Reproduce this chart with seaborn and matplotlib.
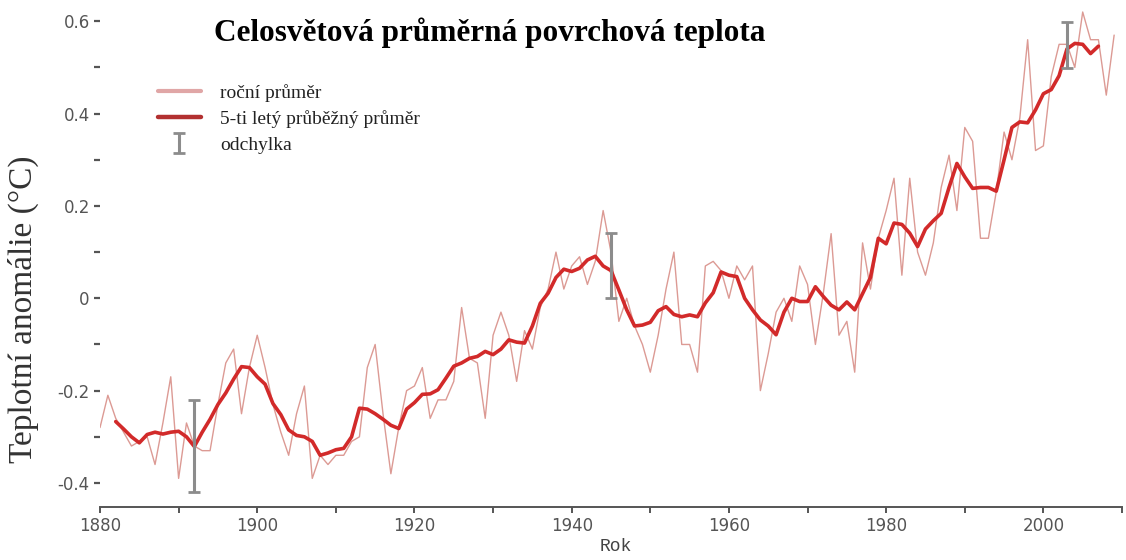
import matplotlib
matplotlib.use("Agg")
import matplotlib.pyplot as plt
import seaborn as sns
import pandas as pd
from matplotlib.lines import Line2D
from matplotlib.ticker import MultipleLocator, FuncFormatter

# Global land-ocean temperature anomaly, annual means (°C)
years = list(range(1880, 2010))
annual = [
    -0.28, -0.21, -0.26, -0.29, -0.32, -0.31, -0.30, -0.36, -0.27, -0.17,
    -0.39, -0.27, -0.32, -0.33, -0.33, -0.23, -0.14, -0.11, -0.25, -0.15,
    -0.08, -0.15, -0.23, -0.29, -0.34, -0.25, -0.19, -0.39, -0.34, -0.36,
    -0.34, -0.34, -0.31, -0.30, -0.15, -0.10, -0.25, -0.38, -0.28, -0.20,
    -0.19, -0.15, -0.26, -0.22, -0.22, -0.18, -0.02, -0.13, -0.14, -0.26,
    -0.08, -0.03, -0.08, -0.18, -0.07, -0.11, -0.02, 0.02, 0.10, 0.02,
    0.07, 0.09, 0.03, 0.08, 0.19, 0.10, -0.05, 0.00, -0.06, -0.10,
    -0.16, -0.08, 0.02, 0.10, -0.10, -0.10, -0.16, 0.07, 0.08, 0.06,
    0.00, 0.07, 0.04, 0.07, -0.20, -0.12, -0.03, 0.00, -0.05, 0.07,
    0.03, -0.10, 0.01, 0.14, -0.08, -0.05, -0.16, 0.12, 0.02, 0.13,
    0.19, 0.26, 0.05, 0.26, 0.10, 0.05, 0.12, 0.24, 0.31, 0.19,
    0.37, 0.34, 0.13, 0.13, 0.23, 0.36, 0.30, 0.39, 0.56, 0.32,
    0.33, 0.48, 0.55, 0.55, 0.50, 0.62, 0.56, 0.56, 0.44, 0.57,
]

# Five-year running mean (°C)
smooth_years = list(range(1882, 2008))
smooth = [
    -0.267, -0.283, -0.300, -0.313, -0.295, -0.290, -0.294, -0.290,
    -0.288, -0.300, -0.321, -0.290, -0.262, -0.230, -0.205, -0.175, -0.148, -0.150,
    -0.170, -0.186, -0.228, -0.252, -0.285, -0.297, -0.300, -0.310, -0.340, -0.335,
    -0.328, -0.325, -0.300, -0.238, -0.240, -0.250, -0.262, -0.275, -0.282, -0.240,
    -0.226, -0.208, -0.207, -0.198, -0.173, -0.147, -0.140, -0.130, -0.126, -0.115,
    -0.122, -0.110, -0.090, -0.095, -0.097, -0.060, -0.011, 0.011, 0.045, 0.063,
    0.058, 0.065, 0.083, 0.091, 0.070, 0.060, 0.018, -0.025, -0.060, -0.058,
    -0.052, -0.027, -0.018, -0.035, -0.040, -0.036, -0.040, -0.010, 0.012, 0.057,
    0.050, 0.047, 0.000, -0.025, -0.047, -0.060, -0.079, -0.030, 0.000, -0.007,
    -0.007, 0.025, 0.004, -0.015, -0.025, -0.008, -0.025, 0.010, 0.045, 0.130,
    0.118, 0.163, 0.160, 0.141, 0.112, 0.150, 0.168, 0.184, 0.240, 0.292,
    0.263, 0.238, 0.240, 0.240, 0.232, 0.300, 0.370, 0.382, 0.380, 0.408,
    0.443, 0.452, 0.482, 0.540, 0.552, 0.550, 0.530, 0.546,
]

# Uncertainty bars
err_years = [1892, 1945, 2003]
err_center = [-0.32, 0.071, 0.548]
err_half = [0.10, 0.071, 0.050]

title = "Celosvětová průměrná povrchová teplota"
legend_labels = ["roční průměr", "5-ti letý průběžný průměr", "odchylka"]
x_label = "Rok"
y_label = "Teplotní anomálie (°C)"

sns.set_theme(style="white")
plt.rcParams["font.family"] = ["DejaVu Sans"]

annual_df = pd.DataFrame({"rok": years, "teplota": annual})
smooth_df = pd.DataFrame({"rok": smooth_years, "teplota": smooth})

fig = plt.figure(figsize=(11.26, 5.6), dpi=100)
ax = fig.add_axes([100 / 1126, 53 / 560, 1022 / 1126, 507 / 560])

annual_color = "#dc9a94"
smooth_color = "#d22a2a"
err_color = "#8c8c8c"

sns.lineplot(data=annual_df, x="rok", y="teplota", ax=ax,
             color=annual_color, linewidth=1.0, zorder=2)
sns.lineplot(data=smooth_df, x="rok", y="teplota", ax=ax,
             color=smooth_color, linewidth=2.6, zorder=3)
err = ax.errorbar(err_years, err_center, yerr=err_half, fmt="none",
                  ecolor=err_color, elinewidth=2.2, capsize=4.5,
                  capthick=2.0, zorder=4)

ax.set_xlim(1880, 2010)
ax.set_ylim(-0.452, 0.646)

ax.xaxis.set_major_locator(MultipleLocator(20))
ax.xaxis.set_minor_locator(MultipleLocator(10))
ax.yaxis.set_major_locator(MultipleLocator(0.2))
ax.yaxis.set_minor_locator(MultipleLocator(0.1))
ax.yaxis.set_major_formatter(FuncFormatter(
    lambda v, p: f"{v:.1f}" if abs(v) > 1e-9 else "0"))

for s in ("top", "right", "left"):
    ax.spines[s].set_visible(False)
ax.spines["bottom"].set_color("#555555")
ax.spines["bottom"].set_linewidth(1.4)

ax.tick_params(axis="x", which="both", direction="out", length=4.5,
               width=1.4, color="#555555", bottom=True,
               labelsize=12, labelcolor="#555555", pad=3)
ax.tick_params(axis="y", which="both", direction="out", length=4.3,
               width=1.6, color="#555555", left=True,
               labelsize=12, labelcolor="#555555", pad=3)
ax.grid(False)

ax.set_xlabel(x_label, fontsize=13, color="#444444",
              family="Liberation Mono")
ax.xaxis.set_label_coords((616 - 100) / 1022, (507 - 538) / 507)

ax.set_ylabel(y_label, fontsize=24, color="#333333",
              family="Liberation Serif", va="center")
ax.yaxis.set_label_coords((23 - 100) / 1022, (507 - 309) / 507)

ax.text((490 - 100) / 1022, (507 - 33) / 507, title,
        transform=ax.transAxes, ha="center", va="center",
        fontsize=22.5, fontweight="bold", family="Liberation Serif",
        color="black")

handles = [
    Line2D([], [], color="#e0a6a6", linewidth=3.0),
    Line2D([], [], color="#b23030", linewidth=3.2),
    err,
]
ax.legend(handles, legend_labels, loc="upper left",
          bbox_to_anchor=(158 / 1126, 1 - 84 / 560),
          bbox_transform=fig.transFigure, frameon=False,
          prop={"family": "Liberation Serif", "size": 14},
          handlelength=2.2, handletextpad=1.0, labelspacing=0.42,
          borderpad=0, borderaxespad=0, labelcolor="#222222")

fig.savefig("out.png", dpi=100, facecolor="white")
